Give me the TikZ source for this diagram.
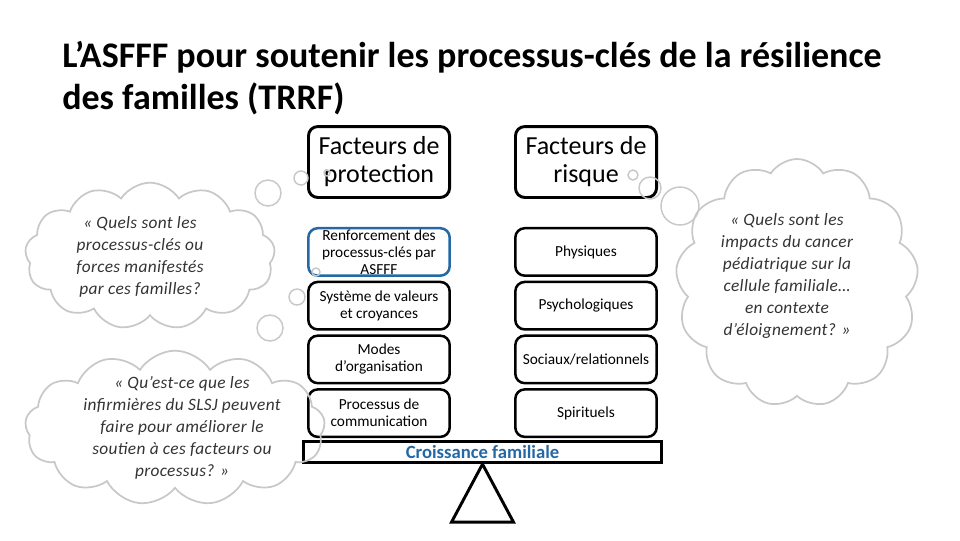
\documentclass[tikz,border=0pt]{standalone}
\usepackage{fontspec}
\setmainfont{Carlito}
\usetikzlibrary{positioning, shapes.symbols}
\definecolor{asfffblue}{RGB}{36,104,164}
\definecolor{cloudgray}{RGB}{200,200,200}
\tikzset{
  headbox/.style={draw, rounded corners=7pt, line width=2.2pt, align=center, minimum width=105.8pt, minimum height=53.2pt, font=\fontsize{19.5}{21}\selectfont},
  factor/.style={draw, rounded corners=7pt, line width=1.9pt, align=center, minimum width=106pt, minimum height=35.6pt, font=\fontsize{11.5}{12.75}\selectfont},
  thought/.style={cloud, draw=cloudgray, line width=1.3pt, cloud puffs=13, cloud puff arc=115, cloud ignores aspect},
  bubble/.style={circle, draw=cloudgray, line width=1.1pt, inner sep=0pt},
  question/.style={align=center, font=\fontsize{13}{16.5}\selectfont\itshape\addfontfeatures{LetterSpace=2}, text=black!80},
  every node/.style={inner sep=0pt}
}

\begin{document}
\begin{tikzpicture}[x=0.75pt, y=-0.75pt, node distance=2.8pt]
    \useasboundingbox (0,0) rectangle (960,540);

    % title
    \node[anchor=north west, align=left, font=\fontsize{27}{31.5}\selectfont\bfseries] (title) at (62,41) {L’ASFFF pour soutenir les processus-clés de la résilience\\des familles (TRRF)};

    % the two columns
    \node[headbox] (protec) at (379,162) {Facteurs de\\protection};
    \node[headbox] (risque) at (586,162) {Facteurs de\\risque};

    \node[factor, draw=asfffblue, below=21pt of protec] (renfo) {Renforcement des\\processus-clés par\\ASFFF};
    \node[factor, below=of renfo] (valeurs) {Système de valeurs\\et croyances};
    \node[factor, below=of valeurs] (modes) {Modes\\d’organisation};
    \node[factor, below=of modes] (commu) {Processus de\\communication};

    \node[factor, below=21pt of risque] (physi) {Physiques};
    \node[factor, below=of physi] (psycho) {Psychologiques};
    \node[factor, below=of psycho] (sociaux) {Sociaux/relationnels};
    \node[factor, below=of sociaux] (spirit) {Spirituels};

    % the balance
    \node[draw, line width=2.2pt, minimum width=268.5pt, minimum height=16pt, font=\fontsize{14}{15}\selectfont\bfseries, text=asfffblue] (croiss) at (482.5,452) {Croissance familiale};
    \draw[line width=2.2pt] (croiss.south) -- ++(31,58) -- ++(-62,0) -- cycle;

    % thought clouds
    \node[thought, minimum width=187.5pt, minimum height=110pt] (cloudA) at (150,256) {};
    \node[question] (qA) at (140,257) {« Quels sont les\\processus-clés ou\\forces manifestés\\par ces familles?};

    \node[thought, minimum width=225pt, minimum height=116pt] (cloudB) at (175,428) {};
    \node[question] (qB) at (182,428) {« Qu’est-ce que les\\infirmières du SLSJ peuvent\\faire pour améliorer le\\soutien à ces facteurs ou\\processus? »};

    \node[thought, minimum width=182pt, minimum height=186pt] (cloudC) at (797,283) {};
    \node[question] (qC) at (787,276) {« Quels sont les\\impacts du cancer\\pédiatrique sur la\\cellule familiale…\\en contexte\\d’éloignement? »};

    \foreach \x/\y/\r [count=\i] in {268/193/13, 301/178/7, 327/173/3, 270/328/13, 297/297/8, 316/272/4, 633/175/5, 650/188/11, 680/206/19}
        \node[bubble, minimum size=\r*1.5pt] (bub\i) at (\x,\y) {};
\end{tikzpicture}
\end{document}
